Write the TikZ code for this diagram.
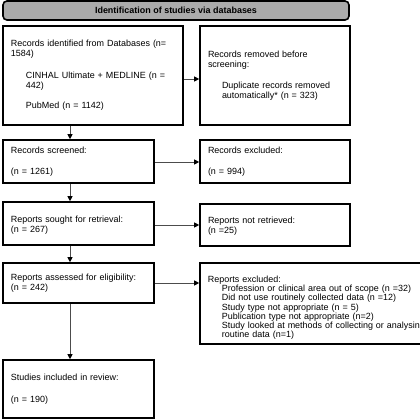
\documentclass[tikz,border=0pt]{standalone}
\usepackage{fontspec}
\setmainfont{Liberation Sans}
\usetikzlibrary{arrows.meta}
\begin{document}
\begin{tikzpicture}[x=1bp,y=-1bp,
  box/.style={draw=black, line width=1.6bp, rectangle, align=left, inner xsep=8bp, inner ysep=0bp,
    font=\fontsize{9}{10}\selectfont},
  hdr/.style={draw=black, line width=1.6bp, rectangle, rounded corners=4bp, fill=black!33,
    font=\fontsize{9}{10}\selectfont\bfseries, minimum width=346bp, minimum height=19bp},
  arr/.style={draw=black!70, line width=0.8bp, -{Triangle[length=5bp,width=5bp,color=black]}}]
\useasboundingbox (0,0) rectangle (420,420);
\node[hdr] (hdr) at (176,10.5) {Identification of studies via databases};
\node[box, minimum width=180bp, minimum height=99bp, text width=164bp] (ident) at (93,75.5)
  {Records identified from Databases (n=\\1584)\\[12bp]
   \hspace*{15bp}CINHAL Ultimate + MEDLINE (n =\\\hspace*{15bp}442)\\[10bp]
   \hspace*{15bp}PubMed (n = 1142)\\[14bp]};
\node[box, minimum width=150bp, minimum height=99bp, text width=134bp] (removed) at (275,75.5)
  {Records removed before\\screening:\\[11bp]
   \hspace*{14bp}Duplicate records removed\\\hspace*{14bp}automatically* (n = 323)};
\node[box, minimum width=151bp, minimum height=43bp, text width=135bp] (screened) at (78.5,161.5)
  {Records screened:\\[11bp](n = 1261)};
\node[box, minimum width=150bp, minimum height=43bp, text width=134bp] (excluded) at (275,161.5)
  {Records excluded:\\[11bp](n = 994)};
\node[box, minimum width=151bp, minimum height=43bp, text width=135bp] (sought) at (78.5,223.5)
  {\rule{0pt}{10bp}Reports sought for retrieval:\\(n = 267)};
\node[box, minimum width=150bp, minimum height=42bp, text width=134bp] (notret) at (275,225)
  {\rule{0pt}{9bp}Reports not retrieved:\\(n =25)};
\node[box, minimum width=151bp, minimum height=40bp, text width=135bp] (assessed) at (78.5,283)
  {Reports assessed for eligibility:\\(n = 242)};
\node[box, minimum width=240bp, minimum height=81bp, text width=224bp,
  font=\fontsize{9}{9.3}\selectfont] (rexcl) at (320,303.5)
  {\rule{0pt}{15bp}Reports excluded:\\
   \hspace*{14bp}Profession or clinical area out of scope (n =32)\\
   \hspace*{14bp}Did not use routinely collected data (n =12)\\
   \hspace*{14bp}Study type not appropriate (n = 5)\\
   \hspace*{14bp}Publication type not appropriate (n=2)\\
   \hspace*{14bp}Study looked at methods of collecting or analysing\\
   \hspace*{14bp}routine data (n=1)};
\node[box, minimum width=151bp, minimum height=58bp, text width=135bp] (included) at (78.5,389)
  {Studies included in review:\\[12bp](n = 190)\\[8bp]};
\draw[arr] (ident.south -| 70,0) -- (screened.north -| 70,0);
\draw[arr] (screened.south -| 70,0) -- (sought.north -| 70,0);
\draw[arr] (sought.south -| 70,0) -- (assessed.north -| 70,0);
\draw[arr] (assessed.south -| 70,0) -- (included.north -| 70,0);
\draw[arr] (ident.east |- 0,79) -- (removed.west |- 0,79);
\draw[arr] (screened.east |- 0,162) -- (excluded.west |- 0,162);
\draw[arr] (sought.east |- 0,225) -- (notret.west |- 0,225);
\draw[arr] (assessed.east |- 0,283) -- (rexcl.west |- 0,283);
\end{tikzpicture}
\end{document}
